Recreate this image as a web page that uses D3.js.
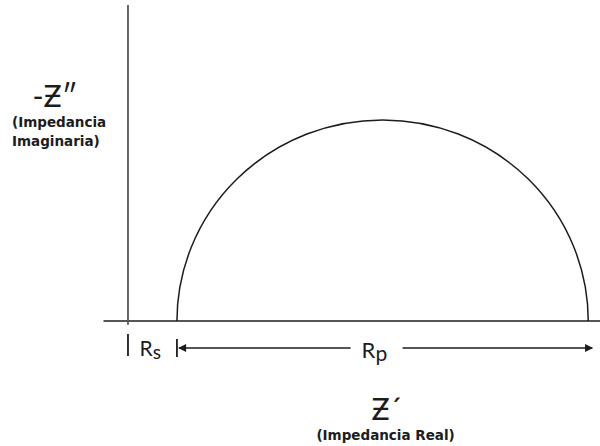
<!DOCTYPE html>
<html>
<head>
<meta charset="utf-8">
<script src="https://cdn.jsdelivr.net/npm/d3@7"></script>
<style>
  html, body { margin: 0; padding: 0; background: #fff; }
  svg { display: block; }
  text { font-family: "Lato", "DejaVu Sans", sans-serif; fill: #1c1c1c; }
  text.small { font-family: "DejaVu Sans", sans-serif; }
</style>
</head>
<body>
<svg id="chart" width="600" height="446"></svg>
<script>
// Nyquist diagram of a simple Randles cell: series resistance Rs followed by
// a charge-transfer semicircle of diameter Rp.
const seriesResistance = [1.0];          // Rs
const polarizationResistance = [8.4];    // Rp
const xDomain = [-0.5, 9.64];            // Z' range shown
const yDomain = [0, 6.6];                // -Z'' range shown
const yTitle = ["-Ƶ″", "(Impedancia", "Imaginaria)"];
const xTitle = ["Ƶ´", "(Impedancia Real)"];
const segmentLabels = ["R", "s", "R", "p"];

const svg = d3.select("#chart");
const ink = "#1c1c1c";

const x = d3.scaleLinear().domain(xDomain).range([103.5, 600]);
const y = d3.scaleLinear().domain(yDomain).range([321, 5]);

const Rs = seriesResistance[0];
const Rp = polarizationResistance[0];

// Axes drawn as plain lines (no ticks)
svg.append("line")
  .attr("x1", x(xDomain[0])).attr("x2", x(xDomain[1]))
  .attr("y1", y(0)).attr("y2", y(0))
  .attr("stroke", ink).attr("stroke-width", 1.6);
svg.append("line")
  .attr("x1", x(0)).attr("x2", x(0))
  .attr("y1", y(yDomain[1])).attr("y2", y(-0.08))
  .attr("stroke", "#555").attr("stroke-width", 1.8);

// Semicircle from Z' = Rs to Z' = Rs + Rp
const rx = x(Rs + Rp / 2) - x(Rs);
const ry = y(0) - y(Rp / 2);
svg.append("path")
  .attr("d", `M${x(Rs)},${y(0)} A${rx},${ry} 0 0 1 ${x(Rs + Rp)},${y(0)}`)
  .attr("fill", "none").attr("stroke", ink).attr("stroke-width", 1.5);

// Dimension markers below the axis
const dimY = 348;
svg.append("line")
  .attr("x1", x(0)).attr("x2", x(0)).attr("y1", 334).attr("y2", 356)
  .attr("stroke", ink).attr("stroke-width", 1.8);
svg.append("line")
  .attr("x1", x(Rs)).attr("x2", x(Rs)).attr("y1", 339).attr("y2", 357)
  .attr("stroke", ink).attr("stroke-width", 1.8);

const defs = svg.append("defs");
defs.append("marker").attr("id", "head")
  .attr("viewBox", "0 0 10 10").attr("refX", 9).attr("refY", 5)
  .attr("markerWidth", 10).attr("markerHeight", 8)
  .attr("markerUnits", "userSpaceOnUse")
  .attr("orient", "auto-start-reverse")
  .append("path").attr("d", "M0,0 L10,5 L0,10 Z").attr("fill", ink);

const rpMid = x(Rs + Rp / 2);
svg.append("line")
  .attr("x1", x(Rs) + 2).attr("x2", rpMid - 32)
  .attr("y1", dimY).attr("y2", dimY)
  .attr("stroke", ink).attr("stroke-width", 1.6)
  .attr("marker-start", "url(#head)");
svg.append("line")
  .attr("x1", rpMid + 20).attr("x2", x(Rs + Rp) + 4)
  .attr("y1", dimY).attr("y2", dimY)
  .attr("stroke", ink).attr("stroke-width", 1.6)
  .attr("marker-end", "url(#head)");

// Rs label
const rsText = svg.append("text")
  .attr("x", x(Rs / 2) - 13).attr("y", 356)
  .attr("font-size", 21);
rsText.append("tspan").text(segmentLabels[0]);
rsText.append("tspan").attr("font-size", 19).attr("dy", 3).text(segmentLabels[1]);

// Rp label
const rpText = svg.append("text")
  .attr("x", rpMid - 21).attr("y", 358)
  .attr("font-size", 22);
rpText.append("tspan").text(segmentLabels[2]);
rpText.append("tspan").attr("font-size", 21).attr("dy", 3).text(segmentLabels[3]);

// Axis titles
svg.append("text")
  .attr("x", 55).attr("y", 107).attr("text-anchor", "middle")
  .attr("font-size", 30)
  .text(yTitle[0]);
svg.append("text").attr("class", "small")
  .attr("x", 12).attr("y", 127)
  .attr("font-size", 13.5).attr("font-weight", 700)
  .text(yTitle[1]);
svg.append("text").attr("class", "small")
  .attr("x", 12).attr("y", 146)
  .attr("font-size", 13.5).attr("font-weight", 700)
  .text(yTitle[2]);

svg.append("text")
  .attr("x", rpMid + 4).attr("y", 420).attr("text-anchor", "middle")
  .attr("font-size", 30)
  .text(xTitle[0]);
svg.append("text").attr("class", "small")
  .attr("x", rpMid + 3).attr("y", 440).attr("text-anchor", "middle")
  .attr("font-size", 13.5).attr("font-weight", 700)
  .text(xTitle[1]);
</script>
</body>
</html>
